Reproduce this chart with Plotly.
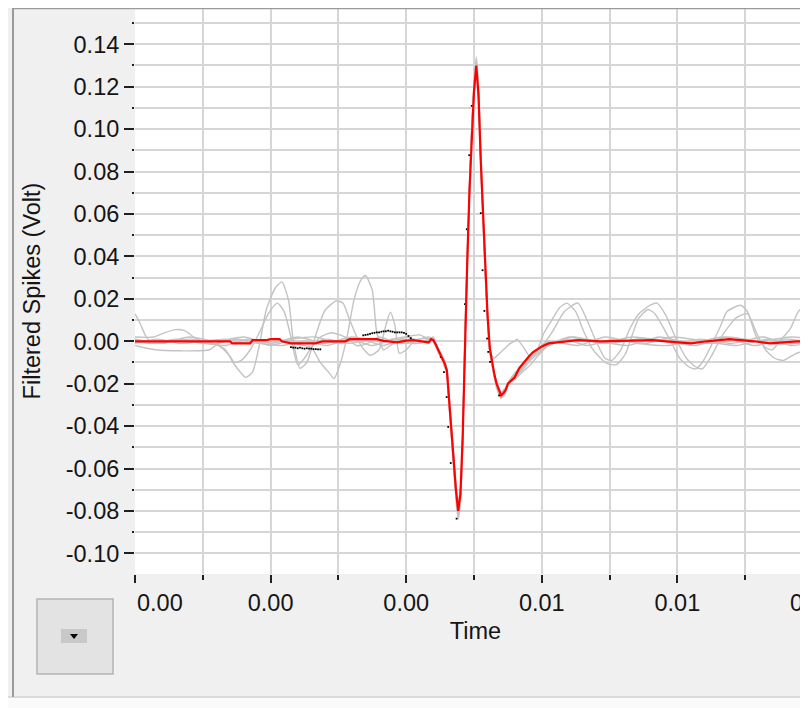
import plotly.graph_objects as go

# ---------------- data (sample index at 30 kHz, value in volts) ----------------
FS = 30000.0

X_TICK_VALUES = [0.000, 0.002, 0.004, 0.006, 0.008, 0.010]
X_TICK_LABELS = ["0.00", "0.00", "0.00", "0.01", "0.01", "0.01"]
Y_TICK_VALUES = [-0.10, -0.08, -0.06, -0.04, -0.02, 0.00, 0.02, 0.04, 0.06, 0.08, 0.10, 0.12, 0.14]
Y_TICK_LABELS = ["-0.10", "-0.08", "-0.06", "-0.04", "-0.02", "0.00", "0.02", "0.04",
                 "0.06", "0.08", "0.10", "0.12", "0.14"]

SPIKE_N = list(range(132, 167))

# gray waveforms
G1_N = [0, 7, 18, 29, 35, 40, 44, 49, 52, 55, 58, 62, 65, 68, 70, 73, 76, 80, 84, 89, 92, 95, 100,
        104, 108, 111, 113, 115, 117, 120, 124, 128, 130] + SPIKE_N + \
       [168, 171, 175, 179, 183, 195, 210, 225, 240, 255, 270, 285, 298, 302]
G1_V = [0.000, -0.001, 0.001, -0.0005, -0.001, -0.004, -0.011, -0.017, -0.0145, -0.002,
        0.0145, 0.025, 0.028, 0.019, 0.0005, -0.0127, -0.010, 0.003, 0.0145, 0.019,
        0.018, 0.010, -0.002, -0.0066, -0.004, 0.0075, 0.0137, 0.0075, -0.0057, -0.004,
        0.0005, 0.0014, 0.001] + \
       [0.001, -0.001, -0.003, -0.005, -0.008, -0.011, -0.016, -0.031, -0.045, -0.060,
        -0.074, -0.084, -0.076, -0.048, -0.004, 0.034, 0.069, 0.099, 0.121, 0.134,
        0.121, 0.089, 0.062, 0.036, 0.014, -0.002, -0.010, -0.016, -0.021, -0.024,
        -0.026, -0.026, -0.024, -0.021, -0.019] + \
       [-0.017, -0.013, -0.008, -0.004, -0.001, 0.001, -0.001, 0.0015, 0.000, -0.001, 0.001,
        -0.0015, 0.000, 0.001]

G2_N = [0, 10, 20, 30, 37, 42, 44, 47, 51, 55, 59, 63, 66, 69, 72, 75, 78, 82, 87, 93, 98, 103,
        108, 114, 120, 126, 130] + SPIKE_N + \
       [168, 171, 175, 179, 183, 190, 200, 212, 226, 238, 252, 266, 280, 292, 302]
G2_V = [0.001, -0.001, 0.0005, -0.001, -0.002, -0.007, -0.010, -0.009, -0.004, 0.004,
        0.013, 0.018, 0.014, 0.002, -0.011, -0.008, -0.003, 0.002, 0.004, 0.002,
        -0.002, -0.001, 0.002, 0.000, -0.001, 0.001, 0.002] + \
       [0.000, -0.002, -0.004, -0.006, -0.009, -0.011, -0.013, -0.026, -0.040, -0.053,
        -0.067, -0.076, -0.069, -0.042, 0.004, 0.040, 0.073, 0.100, 0.116, 0.126,
        0.113, 0.082, 0.056, 0.030, 0.010, -0.005, -0.011, -0.017, -0.021, -0.024,
        -0.025, -0.024, -0.022, -0.020, -0.018] + \
       [-0.015, -0.012, -0.008, -0.004, -0.002, 0.001, -0.002, 0.001, -0.001, 0.002, 0.000,
        -0.002, 0.001, -0.001, 0.000]

G3_N = [0, 2, 5, 8, 15, 25, 35, 45, 55, 65, 75, 85, 95, 105, 115, 125, 130] + SPIKE_N + \
       [168, 169, 172, 175, 178, 181, 185, 188, 191, 195, 198, 202, 206, 209, 213, 217, 220,
        223, 227, 230, 234, 238, 241, 245, 248, 251, 255, 259, 262, 268, 271, 275, 279, 282,
        286, 290, 294, 302]
G3_V = [0.013, 0.009, 0.002, -0.001, 0.000, 0.001, -0.001, 0.001, -0.001, 0.0005, -0.001,
        0.001, -0.001, 0.001, 0.000, -0.001, 0.001] + \
       [0.002, 0.000, -0.003, -0.006, -0.009, -0.012, -0.015, -0.029, -0.043, -0.058,
        -0.072, -0.082, -0.075, -0.047, -0.001, 0.036, 0.072, 0.101, 0.120, 0.131,
        0.118, 0.086, 0.060, 0.034, 0.012, -0.005, -0.007, -0.008, -0.007, -0.006,
        -0.005, -0.004, -0.003, -0.002, -0.001] + \
       [0.000, 0.001, -0.003, -0.0075, -0.004, 0.004, 0.011, 0.016, 0.018, 0.014,
        0.006, -0.003, -0.008, -0.0105, -0.011, -0.006, 0.003, 0.011, 0.015, 0.013,
        0.006, -0.002, -0.008, -0.012, -0.013, -0.010, -0.002, 0.007, 0.014, 0.017,
        0.014, 0.002, -0.003, -0.004, 0.001, 0.006, 0.0146, 0.017]

G4_N = [0, 10, 20, 30, 40, 50, 60, 70, 78, 82, 86, 88, 91, 94, 97, 100, 102, 105, 107, 110,
        113, 118, 124, 130] + SPIKE_N + \
       [168, 171, 175, 179, 181, 185, 190, 196, 200, 204, 208, 211, 215, 219, 223, 228, 231,
        235, 239, 244, 248, 251, 255, 260, 266, 271, 275, 279, 283, 287, 292, 302]
G4_V = [-0.001, 0.001, -0.001, 0.000, 0.001, -0.001, 0.001, -0.001, -0.003, -0.010,
        -0.015, -0.0176, -0.010, 0.003, 0.020, 0.029, 0.031, 0.024, 0.004, -0.004,
        -0.002, 0.001, -0.001, 0.000] + \
       [0.000, -0.001, -0.004, -0.006, -0.008, -0.010, -0.014, -0.027, -0.041, -0.055,
        -0.069, -0.079, -0.073, -0.046, 0.001, 0.038, 0.071, 0.098, 0.117, 0.128,
        0.116, 0.086, 0.060, 0.034, 0.013, -0.003, -0.010, -0.016, -0.021, -0.024,
        -0.026, -0.025, -0.023, -0.021, -0.019] + \
       [-0.017, -0.013, -0.008, -0.003, -0.001, 0.005, 0.014, 0.018, 0.010, 0.000,
        -0.008, -0.009, -0.004, 0.006, 0.013, 0.017, 0.018, 0.012, 0.002, -0.008,
        -0.012, -0.013, -0.007, 0.003, 0.011, 0.013, 0.004, -0.004, -0.008, -0.009,
        -0.006, -0.002]

G5_N = [0, 8, 13, 18, 22, 26, 30, 40, 50, 60, 70, 80, 90, 100, 110, 120, 126, 130] + SPIKE_N + \
       [168, 171, 175, 179, 183, 192, 205, 218, 232, 246, 260, 274, 288, 302]
G5_V = [0.002, 0.002, 0.004, 0.0055, 0.005, 0.002, 0.000, -0.002, 0.001, -0.002, 0.001,
        0.002, -0.001, 0.001, -0.002, 0.002, 0.003, 0.001] + \
       [0.001, -0.002, -0.005, -0.007, -0.009, -0.012, -0.015, -0.030, -0.044, -0.058,
        -0.071, -0.081, -0.074, -0.046, -0.002, 0.035, 0.070, 0.100, 0.119, 0.132,
        0.118, 0.087, 0.061, 0.034, 0.012, -0.004, -0.011, -0.017, -0.022, -0.025,
        -0.027, -0.025, -0.023, -0.021, -0.019] + \
       [-0.018, -0.015, -0.011, -0.006, -0.002, 0.002, 0.000, -0.002, 0.002, -0.001, 0.002,
        -0.002, 0.001, -0.001]

G6_N = [0, 9, 20, 33, 37, 45, 55, 65, 75, 85, 95, 105, 115, 125, 130] + SPIKE_N + \
       [168, 171, 175, 179, 183, 196, 208, 222, 236, 250, 264, 278, 290, 302]
G6_V = [-0.002, -0.004, -0.0045, -0.004, -0.001, 0.001, -0.001, -0.002, 0.000, -0.002,
        0.001, -0.002, 0.001, -0.001, 0.000] + \
       [0.000, -0.001, -0.003, -0.005, -0.007, -0.009, -0.013, -0.027, -0.041, -0.055,
        -0.069, -0.078, -0.071, -0.044, 0.002, 0.039, 0.072, 0.098, 0.116, 0.128,
        0.115, 0.084, 0.058, 0.032, 0.011, -0.004, -0.010, -0.015, -0.019, -0.022,
        -0.024, -0.023, -0.022, -0.020, -0.018] + \
       [-0.016, -0.012, -0.007, -0.003, 0.000, -0.002, 0.002, -0.001, -0.002, 0.001, -0.001,
        0.002, -0.002, 0.000]

G7_N = [0, 12, 24, 36, 48, 60, 72, 84, 96, 108, 120, 130] + SPIKE_N + \
       [168, 171, 175, 179, 183, 194, 206, 220, 234, 248, 262, 276, 290, 302]
G7_V = [0.001, -0.001, 0.002, 0.000, 0.002, -0.001, 0.002, -0.001, 0.002, 0.000, 0.002, -0.001] + \
       [0.001, -0.001, -0.004, -0.006, -0.008, -0.011, -0.014, -0.028, -0.042, -0.056,
        -0.070, -0.080, -0.073, -0.045, 0.000, 0.036, 0.070, 0.099, 0.119, 0.130,
        0.117, 0.085, 0.059, 0.033, 0.012, -0.003, -0.010, -0.016, -0.020, -0.023,
        -0.025, -0.024, -0.023, -0.021, -0.019] + \
       [-0.017, -0.014, -0.009, -0.005, -0.002, 0.002, -0.001, 0.002, 0.000, -0.002, 0.002,
        0.000, 0.002, 0.001]

# mean waveform (red)
RED_N = [0, 42, 43, 51, 52, 58, 60, 64, 65, 69, 80, 83, 93, 95, 107, 110, 116, 120, 123, 127,
         129, 130, 131] + SPIKE_N + \
        [168, 170, 172, 174, 176, 178, 180, 183, 191, 196, 206, 229, 235, 246, 253, 263, 274,
         281, 293, 302]
RED_V = [0.000, 0.000, -0.001, -0.001, 0.0005, 0.0005, 0.001, 0.001, 0.000, -0.001, -0.001,
         0.000, 0.000, 0.001, 0.001, 0.0002, -0.0005, 0.0003, 0.0005, 0.000, -0.0005, -0.0005,
         0.001] + \
        [0.0005, -0.0014, -0.0038, -0.0057, -0.008, -0.0104, -0.0137, -0.028, -0.042, -0.056,
         -0.070, -0.080, -0.072, -0.045, 0.000, 0.037, 0.071, 0.099, 0.118, 0.130,
         0.116, 0.085, 0.059, 0.033, 0.012, -0.0033, -0.0099, -0.0156, -0.020, -0.023,
         -0.0255, -0.0245, -0.023, -0.020, -0.019] + \
        [-0.017, -0.0127, -0.0099, -0.0075, -0.0052, -0.0038, -0.0024, -0.001, 0.000, 0.0005,
         0.000, 0.0005, 0.000, -0.001, 0.000, 0.001, 0.000, -0.001, 0.000, 0.000]

# selected waveform (black sample points, where visible)
BLACK_N = list(range(69, 83)) + list(range(101, 123)) + \
          [135.3, 136.7, 137.9, 138.6, 139.7, 142.3, 146.0, 146.8, 147.9, 149.0, 153.0,
           153.8, 154.6, 155.8, 156.3, 157.1, 161.1]
BLACK_V = [-0.0028, -0.003, -0.003, -0.0033, -0.003, -0.0033, -0.0035, -0.0033, -0.0035,
           -0.0035, -0.0037, -0.0037, -0.0038, -0.0038] + \
          [0.0028, 0.003, 0.0032, 0.0035, 0.0038, 0.004, 0.0042, 0.0042, 0.0045, 0.0047,
           0.0047, 0.005, 0.0047, 0.0045, 0.0042, 0.0042, 0.0042, 0.0042, 0.004, 0.0035,
           0.0025, 0.0015] + \
          [-0.0074, -0.0145, -0.0263, -0.0404, -0.0574, -0.0836, 0.0175, 0.0528, 0.0877,
           0.111, 0.0604, 0.0335, 0.0143, 0.0013, -0.005, -0.0097, -0.0255]

GRAY_TRACES = [(G1_N, G1_V), (G2_N, G2_V), (G3_N, G3_V), (G4_N, G4_V),
               (G5_N, G5_V), (G6_N, G6_V), (G7_N, G7_V)]

for n, v in GRAY_TRACES + [(RED_N, RED_V), (BLACK_N, BLACK_V)]:
    assert len(n) == len(v), (len(n), len(v))


def secs(ns):
    return [k / FS for k in ns]


# ---------------- figure ----------------
# The page body has an 8 px margin, so figure coordinates = window coordinates - 8.
OFF = 8
W, H = 808, 708
L, R, T, B = 135 - OFF, 0, 8 - OFF, H - (574 - OFF)
PW, PH = W - L - R, H - T - B


def px(xs):   # window x pixel -> paper
    return (xs - OFF - L) / PW


def py(ys):   # window y pixel -> paper
    return (H - B - (ys - OFF)) / PH


fig = go.Figure()
for n, v in GRAY_TRACES:
    fig.add_trace(go.Scatter(x=secs(n), y=v, mode="lines",
                             line=dict(color="#C3C3C3", width=1.4, shape="spline", smoothing=0.6),
                             hoverinfo="skip"))
fig.add_trace(go.Scatter(x=secs(BLACK_N), y=BLACK_V, mode="markers",
                         marker=dict(symbol="square", size=1.8, color="#000000", line=dict(width=0))))
fig.add_trace(go.Scatter(x=secs(RED_N), y=RED_V, mode="lines",
                         line=dict(color="#FF0000", width=2.2)))

FONT = "Liberation Sans, Arial, sans-serif"
GRID = "#D6D6D6"
FS_TXT = 23.5

fig.update_layout(
    width=W, height=H,
    margin=dict(l=L, r=R, t=T, b=B, pad=0, autoexpand=False),
    paper_bgcolor="#F0F0F0", plot_bgcolor="#FFFFFF",
    showlegend=False,
    font=dict(family=FONT, size=FS_TXT, color="#151515"),
)

fig.update_xaxes(
    range=[0, 0.01 * PW / 678.0],
    tickmode="array", tickvals=X_TICK_VALUES, ticktext=[""] + X_TICK_LABELS[1:5] + [""],
    ticks="outside", ticklen=8, tickwidth=2, tickcolor="#202020",
    showgrid=True, gridcolor=GRID, gridwidth=2,
    minor=dict(tickmode="linear", tick0=0, dtick=0.001, ticks="outside", ticklen=5,
               tickwidth=1.5, tickcolor="#202020", showgrid=True, gridcolor=GRID, gridwidth=2),
    zeroline=False, showline=False, automargin=False,
    title=dict(text="Time", font=dict(size=FS_TXT), standoff=7),
)
fig.update_yaxes(
    range=[-0.1097, 0.1571],
    tickmode="array", tickvals=Y_TICK_VALUES, ticktext=Y_TICK_LABELS,
    ticks="outside", ticklen=10, tickwidth=2, tickcolor="#202020",
    showgrid=True, gridcolor=GRID, gridwidth=2,
    minor=dict(tickmode="linear", tick0=0, dtick=0.01, ticks="outside", ticklen=2,
               tickwidth=2, tickcolor="#202020", showgrid=True, gridcolor=GRID, gridwidth=2),
    zeroline=False, showline=False, automargin=False,
    title=dict(text="Filtered Spikes (Volt)", font=dict(size=FS_TXT), standoff=18),
)

# first x tick label kept inside the plot edge; last one runs past the window edge
fig.add_annotation(x=X_TICK_VALUES[0], y=py(603), xref="x", yref="paper", text=X_TICK_LABELS[0],
                   showarrow=False, xanchor="left", yanchor="middle")
fig.add_annotation(x=X_TICK_VALUES[-1], y=py(603), xref="x", yref="paper", text=X_TICK_LABELS[-1],
                   showarrow=False, xanchor="center", yanchor="middle")

# panel frame and the small menu button
shapes = [
    dict(type="rect", x0=px(0), x1=px(W + OFF), y0=py(698), y1=py(H + OFF), fillcolor="#FAFAFA",
         line=dict(width=0)),
    dict(type="line", x0=px(0), x1=px(W + OFF), y0=py(697), y1=py(697), line=dict(color="#D4D4D4", width=1.5)),
    dict(type="line", x0=px(13), x1=px(13), y0=py(OFF), y1=py(697), line=dict(color="#9A9A9A", width=2)),
    dict(type="line", x0=px(13), x1=px(W + OFF), y0=py(OFF + 0.5), y1=py(OFF + 0.5),
         line=dict(color="#9A9A9A", width=1.5)),
    dict(type="rect", x0=px(37), x1=px(113), y0=py(674), y1=py(599), fillcolor="#E3E3E3",
         line=dict(color="#B4B4B4", width=1.5)),
    dict(type="rect", x0=px(61), x1=px(87), y0=py(643), y1=py(629), fillcolor="#C8C8C8",
         line=dict(width=0)),
    dict(type="path",
         path=f"M {px(70)},{py(634)} L {px(78)},{py(634)} L {px(74)},{py(639)} Z",
         fillcolor="#000000", line=dict(width=0)),
]
for s in shapes:
    s.update(xref="paper", yref="paper", layer="above")
    fig.add_shape(**s)

fig.write_html("out.html")
